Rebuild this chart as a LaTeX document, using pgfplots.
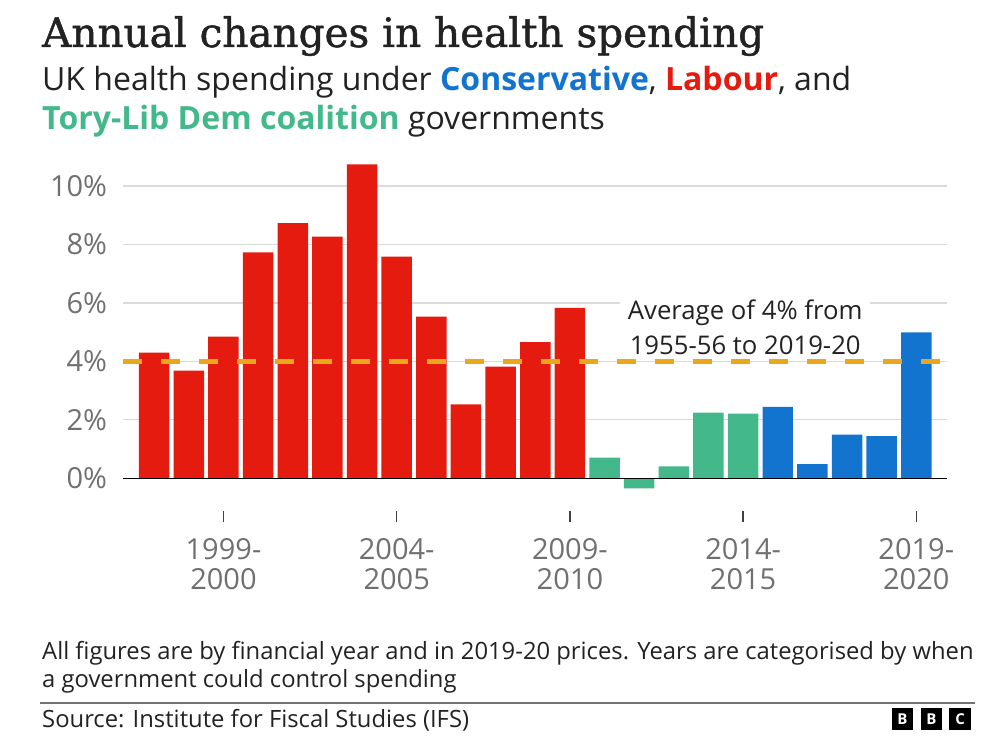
\documentclass[border=0pt]{standalone}
\usepackage{pgfplots}
\pgfplotsset{compat=1.18}
\usepackage{fontspec}
\setmainfont{Open Sans}
\newfontfamily\titlefont[FakeBold=1.2]{DejaVu Serif}
\newfontfamily\tickfont{Open Sans}
\definecolor{labour}{HTML}{E41B0E}
\definecolor{cons}{HTML}{1374CF}
\definecolor{coal}{HTML}{43B98B}
\definecolor{avg}{HTML}{E9A81C}
\definecolor{txt}{HTML}{222222}
\definecolor{tickgray}{HTML}{707070}
\begin{document}
\begin{tikzpicture}[x=1pt,y=1pt]
\path[use as bounding box] (0,0) rectangle (1002,754);
% title
\node[anchor=base west, inner sep=0pt, text=txt] at (42,707) {\titlefont\fontsize{40.5}{42}\selectfont Annual changes in health spending};
\node[anchor=base west, inner sep=0pt, text=txt] at (42,663) {\fontsize{32}{34}\selectfont UK health spending under \textcolor{cons}{\bfseries Conservative}, \textcolor{labour}{\bfseries Labour}, and};
\node[anchor=base west, inner sep=0pt, text=txt] at (42,624) {\fontsize{32}{34}\selectfont \textcolor{coal}{\bfseries Tory-Lib Dem coalition} governments};
% footnote
\node[anchor=base west, inner sep=0pt, text=txt] at (42,94) {\fontsize{23.8}{25}\selectfont All figures are by financial year and in 2019-20 prices. Years are categorised by when};
\node[anchor=base west, inner sep=0pt, text=txt] at (42,66) {\fontsize{23.8}{25}\selectfont a government could control spending};
\draw[draw=black!55, line width=1.5pt] (40,51) -- (975,51);
\node[anchor=base west, inner sep=0pt, text=txt] at (42,26) {\fontsize{23.8}{25}\selectfont Source: Institute for Fiscal Studies (IFS)};
% BBC logo
\foreach \xx/\ll in {891.7/B,920.7/B,949.3/C}{
  \fill[black] (\xx,24) rectangle ++(21.6,21.7);
  \node[text=white, inner sep=0pt, font=\fontsize{15}{15}\selectfont\bfseries] at (\xx+10.8,34.85) {\ll};
}
\begin{axis}[
  at={(123.3pt,243pt)}, anchor=south west,
  scale only axis, width=823.7pt, height=354.2pt,
  xmin=-0.892, xmax=22.886, ymin=-1.12, ymax=11,
  axis line style={draw=none},
  /pgf/number format/assume math mode=true,
  ytick={0,2,4,6,8,10},
  yticklabel={\pgfmathprintnumber{\tick}\%},
  ytick style={draw=none},
  xtick={2,7,12,17,22},
  xticklabels={{1999-\\2000},{2004-\\2005},{2009-\\2010},{2014-\\2015},{2019-\\2020}},
  xtick pos=left,
  tick align=outside,
  major tick length=11pt,
  xtick style={draw=black!75, line width=1.3pt},
  ymajorgrids=true,
  major grid style={draw=black!14, line width=1.2pt},
  yticklabel style={font=\tickfont\fontsize{29}{30}\selectfont, text=tickgray, anchor=east, inner sep=0pt, xshift=-5pt},
  xticklabel style={font=\tickfont\fontsize{29}{30}\selectfont, text=tickgray, align=center, anchor=north, inner sep=0pt, yshift=-16pt},
  ybar, bar width=0.88,
  clip=false,
]
\addplot[fill=labour, draw=none, bar shift=0pt] coordinates {
(0,4.30) (1,3.68) (2,4.85) (3,7.73) (4,8.73) (5,8.27) (6,10.74) (7,7.58) (8,5.53) (9,2.53) (10,3.82) (11,4.66) (12,5.83)};
\addplot[fill=coal, draw=none, bar shift=0pt] coordinates {
(13,0.71) (14,-0.35) (15,0.41) (16,2.25) (17,2.21)};
\addplot[fill=cons, draw=none, bar shift=0pt] coordinates {
(18,2.44) (19,0.48) (20,1.49) (21,1.44) (22,4.99)};
\draw[black, line width=1.3pt] (axis cs:-0.892,0) -- (axis cs:22.886,0);
\node[fill=white, inner xsep=8pt, inner ysep=1pt, align=center, text=txt, font=\fontsize{25.7}{35}\selectfont] at (axis cs:17.06,5.16) {Average of 4\% from\\1955-56 to 2019-20};
\addplot[sharp plot, avg, line width=4.5pt, dash pattern=on 19pt off 19pt, forget plot] coordinates {(-0.892,4) (22.886,4)};
\end{axis}
\end{tikzpicture}
\end{document}
